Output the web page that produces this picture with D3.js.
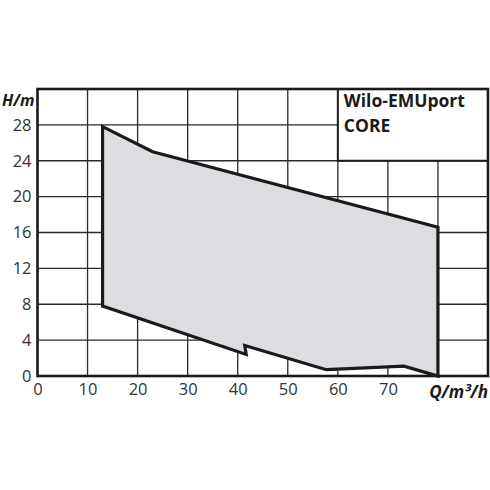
<!DOCTYPE html>
<html><head><meta charset="utf-8">
<script src="https://cdn.jsdelivr.net/npm/d3@7"></script>
<style>body{margin:0;background:#fff}svg{display:block}</style>
</head><body>
<svg id="c" width="490" height="490"></svg>
<script>
const xTicks=[0,10,20,30,40,50,60,70];
const yTicks=[0,4,8,12,16,20,24,28];
const envelopeQ=[13,23,80,80,73.2,57.7,41.4,41.7,13];
const envelopeH=[27.8,25.0,16.6,0,1.1,0.7,3.4,2.4,7.8];
const titleLines=["Wilo-EMUport","CORE"];

const svg=d3.select("#c");
const x=d3.scaleLinear().domain([0,90]).range([37.5,488]);
const y=d3.scaleLinear().domain([0,32]).range([376,89]);
const font="'Open Sans', sans-serif";
const gridC="#2a2a2a";

// grid
svg.append("g").selectAll("line").data(d3.range(10,90,10)).join("line")
 .attr("x1",d=>x(d)).attr("x2",d=>x(d)).attr("y1",y(0)).attr("y2",y(32))
 .attr("stroke",gridC).attr("stroke-width",1.3);
svg.append("g").selectAll("line").data(d3.range(4,32,4)).join("line")
 .attr("y1",d=>y(d)).attr("y2",d=>y(d)).attr("x1",x(0)).attr("x2",x(90))
 .attr("stroke",gridC).attr("stroke-width",1.3);

// envelope
const pts=envelopeQ.map((q,i)=>[x(q),y(envelopeH[i])]);
svg.append("path").attr("d",d3.line()(pts)+"Z")
 .attr("fill","#dcdde0").attr("stroke","#1a1a1a").attr("stroke-width",3.2).attr("stroke-linejoin","miter");

// title box
svg.append("rect").attr("x",x(60)).attr("y",y(32)).attr("width",x(90)-x(60)).attr("height",y(24)-y(32))
 .attr("fill","#fff").attr("stroke","#1a1a1a").attr("stroke-width",2);
svg.append("g").selectAll("text").data(titleLines).join("text")
 .attr("x",x(60)+6).attr("y",(d,i)=>107+i*25).text(d=>d)
 .attr("font-family",font).attr("font-weight","bold").attr("font-size",17.5).attr("fill","#1a1a1a");

// frame
svg.append("rect").attr("x",x(0)).attr("y",y(32)).attr("width",x(90)-x(0)).attr("height",y(0)-y(32))
 .attr("fill","none").attr("stroke","#1a1a1a").attr("stroke-width",2.6);

// axes
const xa=d3.axisBottom(x).tickValues(xTicks).tickSize(0).tickPadding(7);
const gx=svg.append("g").attr("transform",`translate(0,${y(0)})`).call(xa);
gx.select(".domain").remove();
gx.selectAll("text").attr("font-family",font).attr("font-size",16.5).attr("fill","#333");
const ya=d3.axisLeft(y).tickValues(yTicks).tickSize(0).tickPadding(6);
const gy=svg.append("g").attr("transform",`translate(${x(0)},0)`).call(ya);
gy.select(".domain").remove();
gy.selectAll("text").attr("font-family",font).attr("font-size",16.5).attr("fill","#333");

// axis titles
svg.append("text").attr("x",2).attr("y",106).text("H/m")
 .attr("font-family",font).attr("font-weight","bold").attr("font-style","italic").attr("font-size",16).attr("fill","#1a1a1a");
svg.append("text").attr("x",488).attr("y",398).attr("text-anchor","end").text("Q/m³/h")
 .attr("font-family",font).attr("font-weight","bold").attr("font-style","italic").attr("font-size",17).attr("fill","#1a1a1a");
</script>
</body></html>
